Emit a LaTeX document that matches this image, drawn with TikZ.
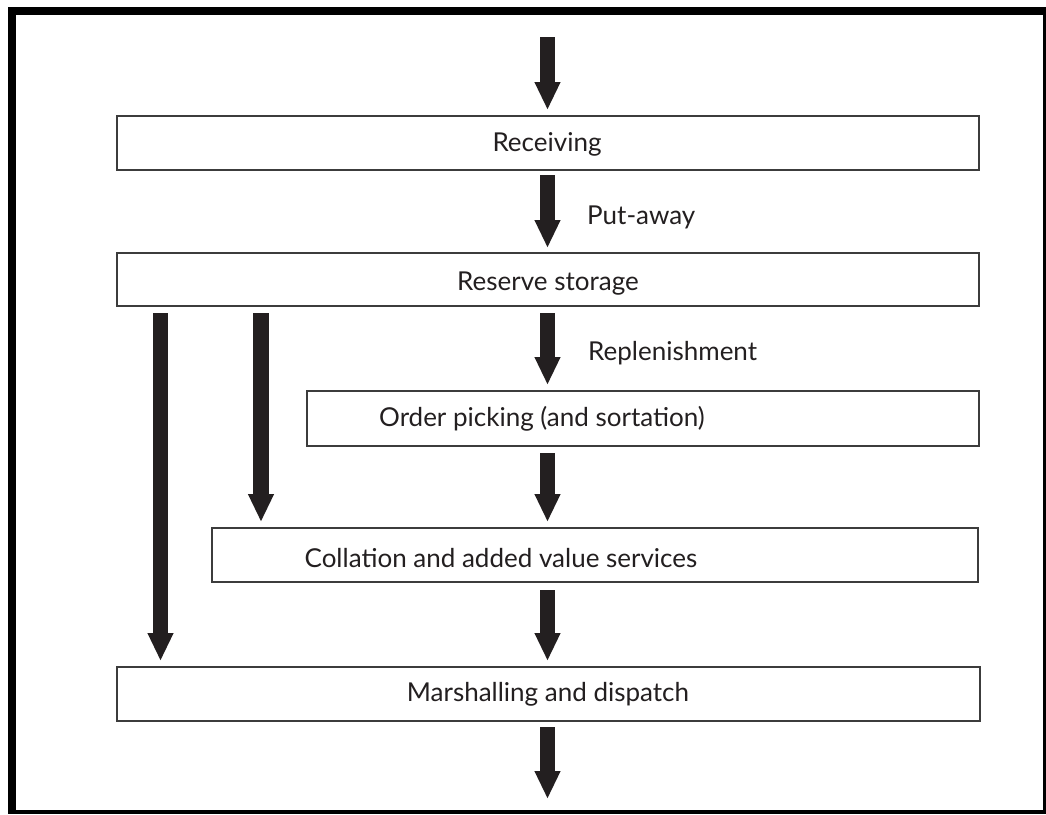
\documentclass[tikz,border=0pt]{standalone}
\usepackage{fontspec}
\setmainfont{Lato}
\usetikzlibrary{arrows.meta}
\definecolor{ink}{HTML}{231F20}
\definecolor{boxline}{HTML}{3C3C3C}
\tikzset{
  stagebox/.style={draw=boxline, line width=2pt, rectangle, inner sep=0pt, fill=white},
  stagetext/.style={font=\fontsize{26}{30}\selectfont, text=ink, inner sep=0pt},
  flowarrow/.style={draw=ink, line width=15.5pt, -{Triangle[width=24pt,length=28pt]}},
}
\begin{document}
\begin{tikzpicture}[x=1pt,y=-1pt]
\useasboundingbox (0,0) rectangle (1046,814);
\fill[white] (0,0) rectangle (1046,814);
% frame
\fill[black] (8,7) rectangle (1046,15);
\fill[black] (8,7) rectangle (16,814);
\fill[black] (8,810) rectangle (1046,814);
\fill[black] (1043,7) rectangle (1046,814);

% boxes
\node[stagebox, minimum width=862pt, minimum height=54pt] (rec) at (548,142.5) {};
\node[stagebox, minimum width=862pt, minimum height=53pt] (rs)  at (548,279.5) {};
\node[stagebox, minimum width=672pt, minimum height=55pt] (op)  at (643,418.5) {};
\node[stagebox, minimum width=766pt, minimum height=54pt] (col) at (595,555) {};
\node[stagebox, minimum width=863pt, minimum height=54pt] (mar) at (548.5,694) {};

% texts
\node[stagetext] (trec) at (547,144.5) {Receiving};
\node[stagetext] (trs)  at (548,283.5) {Reserve storage};
\node[stagetext] (top)  at (542,418.5) {Order picking (and sortation)};
\node[stagetext] (tcol) at (501,558.5) {Collation and added value services};
\node[stagetext] (tmar) at (548,694.5) {Marshalling and dispatch};
\node[stagetext, anchor=west] (tput) at (587,217) {Put-away};
\node[stagetext, anchor=west] (trep) at (588,353) {Replenishment};

% arrow start points
\coordinate (in)  at (547.5,37);
\coordinate (s1)  at (547.5,175);
\coordinate (s2)  at (547.5,313);
\coordinate (s3)  at (547.5,453);
\coordinate (s4)  at (547.5,590);
\coordinate (s5)  at (547.5,727);
\coordinate (out) at (547.5,799);
\coordinate (l1)  at (160.5,313);
\coordinate (l2)  at (261,313);

\draw[flowarrow, shorten >=4.5pt] (in) -- (in |- rec.north);
\draw[flowarrow, shorten >=4pt] (s1) -- (s1 |- rs.north);
\draw[flowarrow, shorten >=5pt] (s2) -- (s2 |- op.north);
\draw[flowarrow, shorten >=5pt] (s3) -- (s3 |- col.north);
\draw[flowarrow, shorten >=5pt] (s4) -- (s4 |- mar.north);
\draw[flowarrow] (s5) -- (out);
\draw[flowarrow, shorten >=5pt] (l1) -- (l1 |- mar.north);
\draw[flowarrow, shorten >=5pt] (l2) -- (l2 |- col.north);
\end{tikzpicture}
\end{document}
